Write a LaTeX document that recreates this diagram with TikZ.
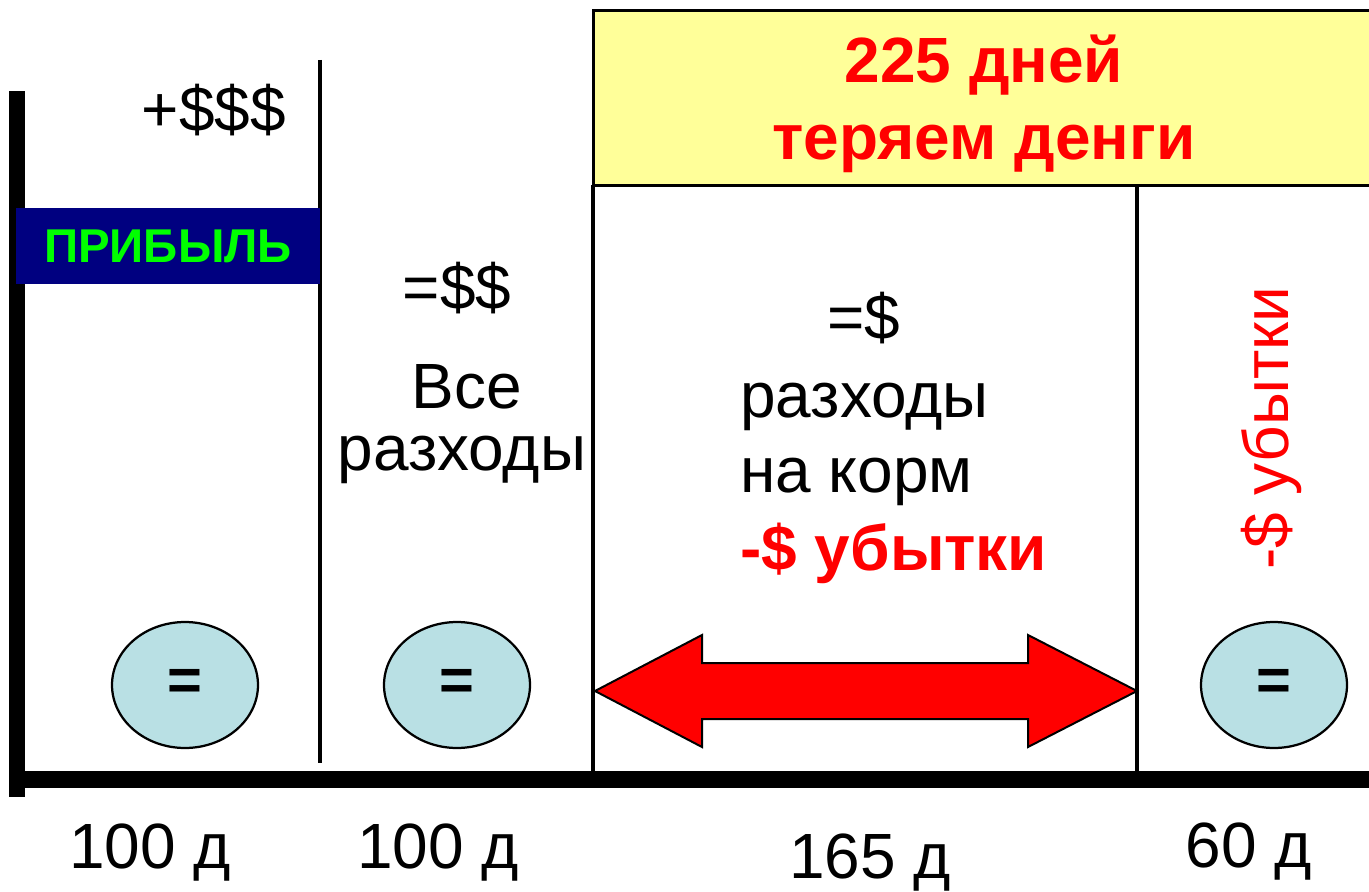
\documentclass[tikz,border=0pt]{standalone}
\usepackage{fontspec}
\setmainfont{Liberation Sans}
\usetikzlibrary{shapes.geometric}
\definecolor{navyc}{RGB}{0,0,128}
\definecolor{greenc}{RGB}{0,255,0}
\definecolor{yellowc}{RGB}{255,255,153}
\definecolor{circc}{RGB}{185,224,228}
\definecolor{redc}{RGB}{255,0,0}
\begin{document}
\begin{tikzpicture}[x=0.02cm,y=-0.02cm,
  txt/.style={inner sep=0pt, anchor=base, font=\fontsize{36.4}{44}\selectfont},
  btxt/.style={inner sep=0pt, anchor=base, font=\fontsize{36.4}{44}\selectfont\bfseries},
  divider/.style={line width=0.07cm, black},
  bar/.style={fill=black, draw=none},
  coin/.style={ellipse, draw=black, line width=0.045cm, fill=circc,
     minimum width=2.92cm, minimum height=2.52cm, inner sep=0pt,
     font=\fontsize{34}{40}\selectfont\bfseries},
  bigarrow/.style={fill=redc, draw=black, line width=0.04cm}]
\useasboundingbox (0,0) rectangle (1369,892);
% yellow header box
\draw[fill=yellowc, line width=0.06cm] (593,11) rectangle (1380,185);
% dividers
\coordinate (d1t) at (320,60);   \coordinate (d1b) at (320,763);
\coordinate (d2t) at (593,185);  \coordinate (d2b) at (593,771);
\coordinate (d3t) at (1137,185); \coordinate (d3b) at (1137,771);
\draw[divider] (d1t) -- (d1b);
\draw[divider] (d2t) -- (d2b);
\draw[divider] (d3t) -- (d3b);
% axes
\fill[bar] (9,91) rectangle (25,797);
\fill[bar] (9,771) rectangle (1375,788);
% profit label
\node[fill=navyc, minimum width=6.08cm, minimum height=1.52cm, inner sep=0pt,
      text=greenc, font=\fontsize{27}{32}\selectfont\bfseries] (prib) at (168,246) {ПРИБЫЛЬ};
% column 1
\node[txt] (plus) at (214,132) {+\$\$\$};
% column 2
\node[txt] (c2a) at (457,309) {=\$\$};
\node[txt] (c2b) at (467,408) {Все};
\node[txt] (c2c) at (462,470) {разходы};
% header text
\node[btxt, text=redc] (h1) at (984,83) {225 дней};
\node[btxt, text=redc] (h2) at (984,159) {теряем денги};
% column 3
\node[txt, anchor=base west] (c3a) at (827,339) {=\$};
\node[txt, anchor=base west] (c3b) at (740,417) {разходы};
\node[txt, anchor=base west] (c3c) at (740,492) {на корм};
\node[btxt, anchor=base west, text=redc] (c3d) at (740,570) {-\$ убытки};
% column 4
\node[txt, anchor=base west, rotate=90, text=redc] (c4) at (1288,570) {-\$ убытки};
% coins
\node[coin] (e1) at (185,685) {=};
\node[coin] (e2) at (457,685) {=};
\node[coin] (e3) at (1274,685) {=};
% double arrow
\draw[bigarrow] (595,691) -- (702,635) -- (702,663) -- (1028,663) -- (1028,635)
  -- (1137,691) -- (1028,747) -- (1028,719) -- (702,719) -- (702,747) -- cycle;
% bottom labels
\node[txt] (l1) at (150,868) {100 д};
\node[txt] (l2) at (438,868) {100 д};
\node[txt] (l3) at (870,878) {165 д};
\node[txt] (l4) at (1249,867) {60 д};
\end{tikzpicture}
\end{document}
